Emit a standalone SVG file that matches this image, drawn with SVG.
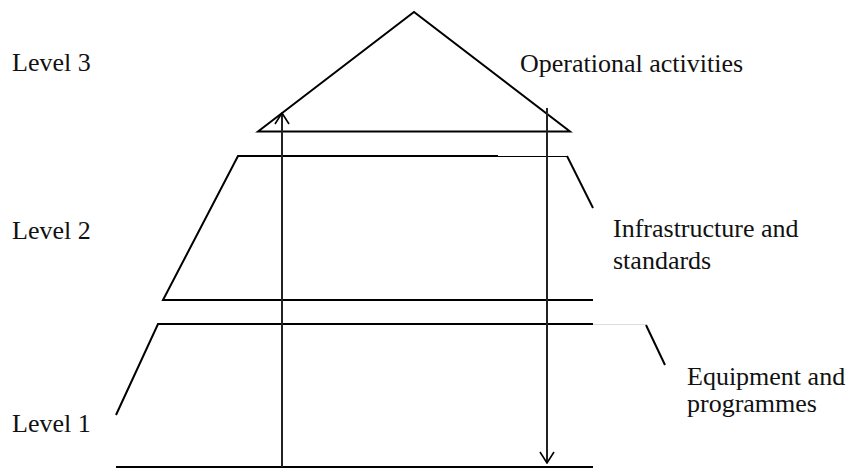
<svg xmlns="http://www.w3.org/2000/svg" width="851" height="468" viewBox="0 0 851 468">
<style>
.t{font-family:"Liberation Serif","Times New Roman",serif;font-size:26px;fill:#111}
.s{stroke:#000;stroke-width:2;fill:none;stroke-linecap:butt;stroke-linejoin:miter}
.thin{stroke:#000;stroke-width:1;fill:none}
.faint{stroke:#ddd;stroke-width:1;fill:none}
.v{stroke:#222;stroke-width:2;fill:none}
</style>
<defs>
<marker id="ah" viewBox="0 0 14 16" refX="13" refY="8" markerWidth="14" markerHeight="16" markerUnits="userSpaceOnUse" orient="auto">
<path d="M2 1 L13 8 L2 15" fill="none" stroke="#000" stroke-width="1.6"/>
</marker>
</defs>
<g id="level3">
<path class="s" d="M258 131.5 L414 12 L570 131.5 Z"/>
<text class="t" x="12" y="71">Level 3</text>
<text class="t" x="520" y="72">Operational activities</text>
</g>
<g id="level2">
<path class="s" d="M498 156 L238 156 L163 300 L593 300"/>
<path class="thin" d="M498 156.5 L567 156.5"/>
<path class="s" d="M567 156 L593 208"/>
<text class="t" x="12" y="239">Level 2</text>
<text class="t" x="613" y="237">Infrastructure and</text>
<text class="t" x="613" y="269">standards</text>
</g>
<g id="level1">
<path class="s" d="M593 324 L158 324 L116 415"/>
<path class="faint" d="M593 324.5 L646 324.5"/>
<path class="s" d="M646 325 L665 365"/>
<path class="s" d="M116 467 L593 467"/>
<text class="t" x="12" y="432">Level 1</text>
<text class="t" x="687" y="385">Equipment and</text>
<text class="t" x="687" y="412">programmes</text>
</g>
<g id="connectors">
<path class="v" d="M282 467 L282 113" marker-end="url(#ah)"/>
<path class="v" d="M547 108 L547 463" marker-end="url(#ah)"/>
</g>
</svg>
